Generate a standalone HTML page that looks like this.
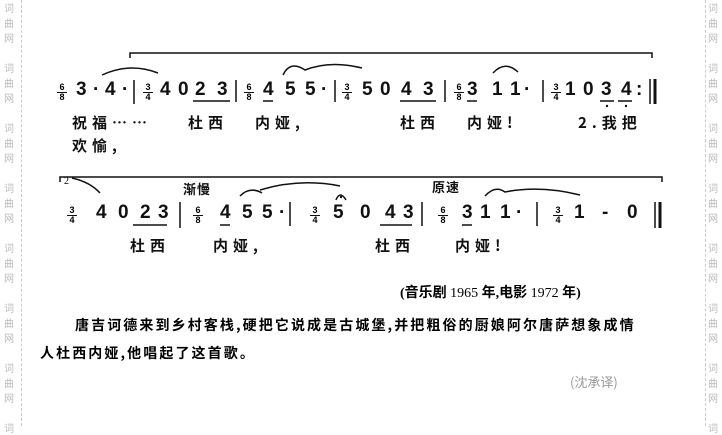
<!DOCTYPE html>
<html><head><meta charset="utf-8"><style>
body{margin:0;width:722px;height:426px;background:#fff;position:relative;overflow:hidden;font-family:"Liberation Sans","Noto Sans CJK SC",sans-serif;}
.a{position:absolute;white-space:nowrap;}
.d{position:absolute;font:bold 19px "Liberation Sans",sans-serif;color:#111;line-height:20px;}
.ly{position:absolute;font:bold 15px "Noto Sans CJK SC","WenQuanYi Zen Hei",sans-serif;color:#111;letter-spacing:5px;}
.ts{position:absolute;font:bold 9px "Liberation Sans",sans-serif;line-height:9px;text-align:center;width:10px;}
.ts span{display:block;border-top:1px solid #111;}
.wm{position:absolute;font:10px "Noto Sans CJK SC",sans-serif;color:#bbb;}
</style></head><body>
<div class="a" style="left:21px;top:0;height:426px;border-left:1px dashed #ccc"></div>
<div class="a" style="left:705px;top:0;height:426px;border-left:1px dashed #ccc"></div>
<div id="wm"></div>
<div id="notes"></div>
<svg class="a" style="left:0;top:0" width="722" height="426">
<g stroke="#111" fill="none" stroke-width="1.5">
<path d="M130 58V53H652V58"/>
<path d="M134 80V104M236 80V102M335 80V102M445 80V102M543 80V102" />
<path d="M650 79V104" stroke-width="1.5"/><path d="M655 79V104" stroke-width="3"/>
<path d="M193 101H230M263 101H273M400 101H436M467 101H477M600 101H614M618 101H632"/>
<path d="M102 75Q130 62 158 73"/>
<path d="M283 75Q290 60 305 70Q330 60 362 68"/>
<path d="M493 73Q505 60 518 72"/>
<path d="M60 182V177H662V182"/>
<path d="M72 178Q90 182 100 193"/>
<path d="M240 196Q250 186 262 193"/>
<path d="M260 190Q300 178 340 186"/>
<path d="M485 196Q495 185 505 192Q540 185 580 195"/>
<path d="M336 200Q340 190 346 200"/>
<path d="M180 202V228M290 202V226M422 202V226M537 202V226"/>
<path d="M655 202V228" stroke-width="1.5"/><path d="M660 202V228" stroke-width="3"/>
<path d="M133 225H167M220 225H230M380 225H412M462 225H472"/>
</g>
<circle cx="607" cy="106" r="1.2" fill="#111"/><circle cx="626" cy="106" r="1.2" fill="#111"/>
<circle cx="341" cy="197" r="1.2" fill="#111"/>
<text x="64" y="184" font-size="10" font-family="Liberation Serif">2</text>
</svg>
<div class="ts" style="left:57px;top:83px">6<span>8</span></div>
<div class="ts" style="left:143px;top:83px">3<span>4</span></div>
<div class="ts" style="left:244px;top:83px">6<span>8</span></div>
<div class="ts" style="left:342px;top:83px">3<span>4</span></div>
<div class="ts" style="left:454px;top:83px">6<span>8</span></div>
<div class="ts" style="left:551px;top:83px">3<span>4</span></div>
<div class="ly" style="left:72px;top:112px">祝福……</div>
<div class="ly" style="left:188px;top:112px">杜西</div>
<div class="ly" style="left:255px;top:112px">内娅,</div>
<div class="ly" style="left:400px;top:112px">杜西</div>
<div class="ly" style="left:467px;top:112px">内娅!</div>
<div class="ly" style="left:578px;top:112px">2.我把</div>
<div class="ly" style="left:72px;top:135px">欢愉,</div>
<div class="ts" style="left:67px;top:206px">3<span>4</span></div>
<div class="ts" style="left:193px;top:206px">6<span>8</span></div>
<div class="ts" style="left:310px;top:206px">3<span>4</span></div>
<div class="ts" style="left:438px;top:206px">6<span>8</span></div>
<div class="ts" style="left:553px;top:206px">3<span>4</span></div>
<div class="ly" style="left:183px;top:179px;font-size:13px;letter-spacing:1px">渐慢</div>
<div class="ly" style="left:432px;top:177px;font-size:13px;letter-spacing:1px">原速</div>
<div class="ly" style="left:130px;top:235px">杜西</div>
<div class="ly" style="left:213px;top:235px">内娅,</div>
<div class="ly" style="left:375px;top:235px">杜西</div>
<div class="ly" style="left:455px;top:235px">内娅!</div>
<div class="a" style="left:400px;top:282px;font:bold 14px 'Liberation Serif','Noto Sans CJK SC',serif">(音乐剧 <span style="font-weight:normal">1965</span> 年,电影 <span style="font-weight:normal">1972</span> 年)</div>
<div class="a" style="left:75px;top:315px;font:bold 14px 'Noto Sans CJK SC',sans-serif;letter-spacing:2.1px">唐吉诃德来到乡村客栈,硬把它说成是古城堡,并把粗俗的厨娘阿尔唐萨想象成情</div>
<div class="a" style="left:40px;top:343px;font:bold 14px 'Noto Sans CJK SC',sans-serif;letter-spacing:2.1px">人杜西内娅,他唱起了这首歌。</div>
<div class="a" style="left:570px;top:372px;font:13px 'Noto Sans CJK SC',sans-serif;color:#999">(沈承译)</div>
<script>
var s='';var c=['词','曲','网'];
for(var g=-1;g<8;g++)for(var i=0;i<3;i++){var y=g*60+i*15;if(y<-12||y>426)continue;
s+='<div class="wm" style="left:4px;top:'+y+'px">'+c[i]+'</div><div class="wm" style="left:708px;top:'+y+'px">'+c[i]+'</div>';}
document.getElementById('wm').innerHTML=s;
var n1=[[76,'3'],[93,'·'],[105,'4'],[122,'·'],[160,'4'],[178,'0'],[195,'2'],[217,'3'],[263,'4'],[285,'5'],[305,'5'],[321,'·'],[362,'5'],[380,'0'],[401,'4'],[423,'3'],[467,'3'],[492,'1'],[510,'1'],[524,'·'],[565,'1'],[583,'0'],[601,'3'],[621,'4'],[636,':']];
var n2=[[96,'4'],[118,'0'],[140,'2'],[158,'3'],[220,'4'],[242,'5'],[262,'5'],[279,'·'],[333,'5'],[360,'0'],[385,'4'],[403,'3'],[462,'3'],[480,'1'],[500,'1'],[516,'·'],[574,'1'],[602,'-'],[627,'0']];
var h='';
n1.forEach(function(p){h+='<div class="d" style="left:'+p[0]+'px;top:80px">'+p[1]+'</div>';});
n2.forEach(function(p){h+='<div class="d" style="left:'+p[0]+'px;top:203px">'+p[1]+'</div>';});
document.getElementById('notes').innerHTML=h;
</script>
</body></html>
